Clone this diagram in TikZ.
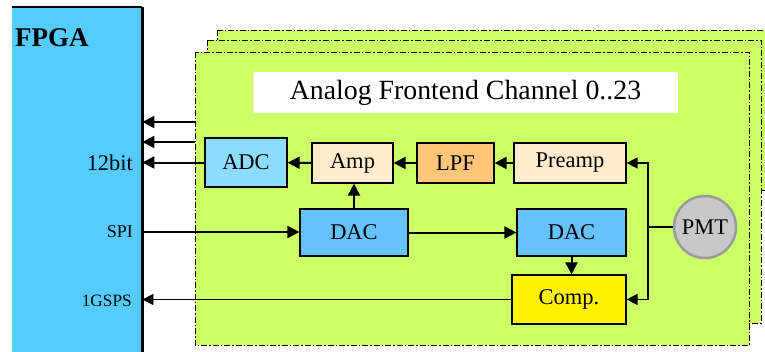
\documentclass[tikz,border=0pt]{standalone}
\usepackage{fontspec}
\setmainfont{Liberation Serif}
\usetikzlibrary{arrows.meta}

\definecolor{fpgablue}{RGB}{85,204,255}
\definecolor{chgreen}{RGB}{204,255,102}
\definecolor{adcblue}{RGB}{140,220,255}
\definecolor{dacblue}{RGB}{102,194,255}
\definecolor{ampcream}{RGB}{255,235,205}
\definecolor{lpforange}{RGB}{255,198,122}
\definecolor{pmtgray}{RGB}{200,200,200}
\definecolor{pmtrim}{RGB}{155,155,155}

\tikzset{
    blk/.style={draw=black, line width=1.2pt, inner sep=0pt, font=\fontsize{22.5}{26}\selectfont},
    chanbox/.style={fill=chgreen, draw=black, line width=1pt,
        dash pattern=on 6pt off 2pt on 1.5pt off 2pt},
    bus/.style={line width=2pt, -{Triangle[length=12pt,width=12pt]}},
    sig/.style={line width=1.4pt, -{Triangle[length=11pt,width=11pt]}},
    lbl/.style={anchor=east, inner sep=0pt}
}

\begin{document}
\begin{tikzpicture}[x=1pt, y=-1pt]
    \useasboundingbox (0,0) rectangle (765,351);

    % FPGA
    \node[fill=fpgablue, minimum width=130pt, minimum height=345pt, inner sep=0pt, anchor=north west]
        (fpga) at (12,7) {};
    \draw[line width=1.5pt] (fpga.north west) -- (fpga.north east);
    \draw[line width=2.6pt] (fpga.north east) -- (fpga.south east);
    \node[anchor=west, inner sep=0pt, font=\fontsize{27}{31}\selectfont\bfseries] (fpgalbl) at (15,38) {FPGA};
    \node[lbl, font=\fontsize{22.4}{26}\selectfont] (bitlbl) at (133,163) {12bit};
    \node[lbl, font=\fontsize{18}{22}\selectfont] (spilbl) at (133,232) {SPI};
    \node[lbl, font=\fontsize{17.3}{21}\selectfont] (gspslbl) at (132,301) {1GSPS};

    % Channel stack (back to front)
    \draw[chanbox] (217,30) rectangle (767,190);
    \draw[chanbox] (207,40) rectangle (761,323);
    \draw[chanbox] (195,52) rectangle (749,345);

    \node[fill=white, minimum width=425pt, minimum height=41pt, inner sep=0pt,
        font=\fontsize{27.8}{32}\selectfont] (title) at (465.5,92.5) {Analog Frontend Channel 0..23};

    % Signal chain
    \node[blk, fill=adcblue, minimum width=82pt, minimum height=49pt] (adc) at (246,162.5) {ADC};
    \node[blk, fill=ampcream, minimum width=81pt, minimum height=40pt] (amp) at (352.5,163) {Amp};
    \node[blk, fill=lpforange, minimum width=77pt, minimum height=40pt] (lpf) at (455.5,163) {LPF};
    \node[blk, fill=ampcream, minimum width=112pt, minimum height=40pt] (preamp) at (570,163) {Preamp};
    \node[blk, fill=dacblue, minimum width=108pt, minimum height=47pt] (dacA) at (354,232.5) {DAC};
    \node[blk, fill=dacblue, minimum width=109pt, minimum height=47pt] (dacB) at (571.5,232.5) {DAC};
    \node[blk, fill=yellow, minimum width=114pt, minimum height=49pt] (comp) at (569,299.5) {Comp.};
    \node[circle, fill=pmtgray, draw=pmtrim, line width=2.5pt, minimum size=62pt, inner sep=0pt,
        font=\fontsize{22.4}{26}\selectfont] (pmt) at (705,227) {PMT};

    % Outputs of the other channels
    \coordinate (outA) at (195,122);
    \coordinate (outB) at (195,142);
    \draw[bus] (outA) -- (fpga.east |- outA);
    \draw[bus] (outB) -- (fpga.east |- outB);

    % Data path
    \draw[bus] (preamp) -- (lpf);
    \draw[bus] (lpf) -- (amp);
    \draw[bus] (amp) -- (adc);
    \draw[bus] (adc) -- (fpga.east |- adc);
    \draw[bus] (fpga.east |- spilbl) -- (dacA.west |- spilbl);
    \draw[bus] (dacA) -- (dacB);
    \draw[bus] (dacA.north) -- (dacA.north |- amp.south);
    \draw[bus] (dacB.south) -- (dacB.south |- comp.north);

    % PMT fan-out
    \coordinate (split) at (648,227);
    \draw[line width=1.4pt] (pmt.west) -- (split);
    \draw[sig] (split) |- (preamp.east);
    \draw[sig] (split) |- (comp.east);
    \draw[sig] (comp.west) -- (fpga.east |- comp.west);

\end{tikzpicture}
\end{document}
